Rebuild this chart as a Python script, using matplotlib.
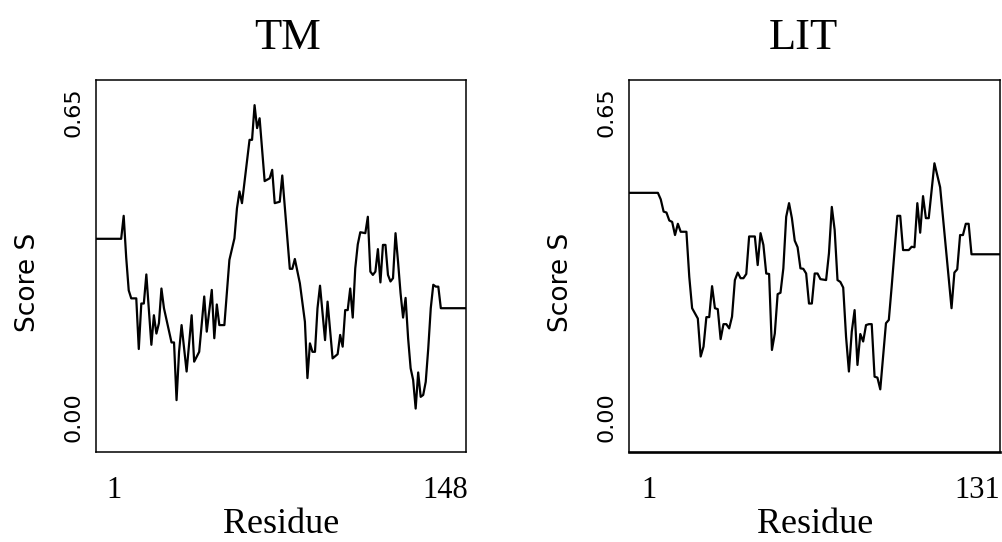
import numpy as np
import matplotlib
matplotlib.use('Agg')
import matplotlib.pyplot as plt

# TM panel: turning points of the profile (residue, score)
tm_residue = [1, 11, 12, 13, 14, 15, 17, 18, 19, 20, 21, 23, 24, 25, 26, 27, 28, 31, 32, 33,
              34, 35, 37, 39, 40, 42, 44, 45, 47, 48, 49, 50, 52, 54, 56, 57, 58, 59, 62, 63,
              64, 65, 66, 68, 70, 71, 72, 74, 75, 78, 79, 80, 82, 84, 85, 86, 87, 88, 89, 90,
              92, 93, 95, 97, 98, 99, 100, 101, 102, 103, 104, 105, 106, 108, 109, 110, 111,
              112, 113, 114, 115, 116, 117, 118, 119, 120, 121, 122, 123, 124, 125, 126, 127,
              128, 129, 130, 131, 132, 133, 134, 135, 136, 137, 138, 148]
tm_score = [0.380, 0.380, 0.429, 0.340, 0.270, 0.253, 0.253, 0.145, 0.242, 0.242, 0.304, 0.154,
            0.217, 0.178, 0.200, 0.274, 0.232, 0.159, 0.159, 0.036, 0.139, 0.196, 0.097, 0.217,
            0.118, 0.139, 0.257, 0.182, 0.271, 0.168, 0.240, 0.196, 0.196, 0.335, 0.381, 0.445,
            0.481, 0.456, 0.591, 0.591, 0.665, 0.616, 0.637, 0.503, 0.509, 0.527, 0.456, 0.459,
            0.515, 0.316, 0.316, 0.337, 0.285, 0.203, 0.083, 0.157, 0.139, 0.139, 0.232, 0.280,
            0.164, 0.246, 0.125, 0.134, 0.175, 0.150, 0.228, 0.228, 0.274, 0.212, 0.317, 0.368,
            0.394, 0.392, 0.427, 0.310, 0.303, 0.310, 0.358, 0.287, 0.367, 0.367, 0.303, 0.289,
            0.296, 0.392, 0.331, 0.264, 0.212, 0.254, 0.168, 0.104, 0.079, 0.018, 0.095, 0.043,
            0.047, 0.075, 0.146, 0.232, 0.282, 0.278, 0.278, 0.232, 0.232]

# LIT panel
lit_residue = [1, 11, 12, 13, 14, 15, 16, 17, 18, 19, 21, 22, 23, 25, 26, 27, 28, 29, 30, 31,
               32, 33, 34, 35, 36, 37, 38, 39, 40, 41, 42, 43, 45, 46, 47, 48, 49, 50, 51, 52,
               53, 54, 55, 56, 57, 58, 59, 60, 61, 62, 63, 64, 65, 66, 67, 68, 70, 71, 72, 73,
               74, 75, 76, 77, 78, 79, 80, 81, 82, 83, 84, 85, 86, 87, 88, 89, 91, 92, 93, 95,
               96, 97, 99, 100, 101, 102, 103, 104, 105, 106, 108, 110, 114, 115, 116, 117, 118,
               119, 120, 121, 131]
lit_score = [0.478, 0.478, 0.464, 0.438, 0.436, 0.419, 0.416, 0.388, 0.412, 0.395, 0.395, 0.299,
             0.232, 0.210, 0.129, 0.150, 0.213, 0.213, 0.279, 0.232, 0.230, 0.166, 0.198, 0.198,
             0.189, 0.214, 0.292, 0.308, 0.296, 0.296, 0.305, 0.385, 0.385, 0.324, 0.392, 0.367,
             0.306, 0.305, 0.143, 0.178, 0.262, 0.265, 0.317, 0.427, 0.456, 0.424, 0.376, 0.362,
             0.317, 0.316, 0.306, 0.242, 0.242, 0.306, 0.306, 0.294, 0.292, 0.349, 0.448, 0.399,
             0.292, 0.288, 0.276, 0.171, 0.097, 0.182, 0.228, 0.111, 0.177, 0.161, 0.196, 0.198,
             0.198, 0.086, 0.084, 0.059, 0.200, 0.207, 0.278, 0.429, 0.429, 0.356, 0.356, 0.363,
             0.362, 0.456, 0.393, 0.471, 0.424, 0.424, 0.541, 0.490, 0.232, 0.308, 0.315, 0.388,
             0.388, 0.412, 0.412, 0.347, 0.347]

titles = ['TM', 'LIT']
y_ticks = [0.0, 0.65]
y_ticklabels = ['0.00', '0.65']


def draw_panel(ax, residue, score, tick_pos, bottom_lw):
    serif = 'Liberation Serif'
    ax.plot(residue, score, color='black', linewidth=1.6)
    ax.set_xlim(residue[0], residue[-1])
    ax.set_ylim(-0.0746, 0.7186)

    ax.set_xticks([])
    ax.set_yticks(y_ticks)
    ax.set_yticklabels(y_ticklabels, rotation=90, va='center',
                       fontsize=16, fontfamily='DejaVu Sans')
    ax.tick_params(axis='y', length=0, pad=9)

    for sp in ax.spines.values():
        sp.set_linewidth(1.1)
        sp.set_color('black')
    ax.spines['bottom'].set_linewidth(bottom_lw)

    # first / last residue labels
    ax.text(tick_pos[0], -0.124, str(residue[0]), transform=ax.transAxes,
            ha='center', va='baseline', fontsize=22, fontfamily=serif)
    ax.text(tick_pos[1], -0.124, str(residue[-1]), transform=ax.transAxes,
            ha='center', va='baseline', fontsize=22, fontfamily=serif)

    ax.text(0.5, -0.218, 'Residue', transform=ax.transAxes,
            ha='center', va='baseline', fontsize=26, fontfamily=serif)
    ax.text(-0.185, 0.457, 'Score S', transform=ax.transAxes, rotation=90,
            ha='center', va='center', fontsize=19, fontfamily='DejaVu Sans')


def main():
    fig = plt.figure(figsize=(10.02, 5.42), dpi=100)
    ax1 = fig.add_axes([96 / 1002, 90 / 542, 370 / 1002, 372 / 542])
    ax2 = fig.add_axes([629.4 / 1002, 90 / 542, 370.6 / 1002, 372 / 542])

    draw_panel(ax1, tm_residue, tm_score, (0.0497, 0.9427), 1.1)
    draw_panel(ax2, lit_residue, lit_score, (0.0518, 0.938), 1.9)

    ax1.text(0.517, 1.082, titles[0], transform=ax1.transAxes, ha='center',
             va='baseline', fontsize=32, fontfamily='Liberation Serif')
    ax2.text(0.47, 1.082, titles[1], transform=ax2.transAxes, ha='center',
             va='baseline', fontsize=32, fontfamily='Liberation Serif')

    plt.savefig('out.png', dpi=100)


if __name__ == '__main__':
    main()
